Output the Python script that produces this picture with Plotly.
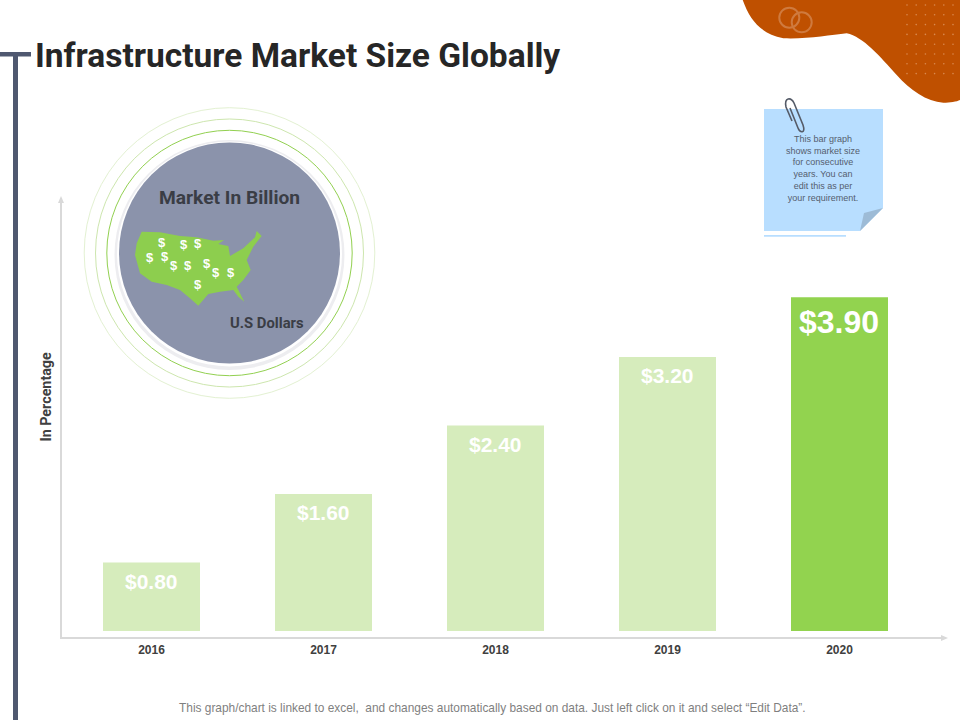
import plotly.graph_objects as go

years = ["2016", "2017", "2018", "2019", "2020"]
market_size = [0.8, 1.6, 2.4, 3.2, 3.9]
bar_labels = ["$0.80", "$1.60", "$2.40", "$3.20", "$3.90"]
bar_colors = ["#D6ECBC", "#D6ECBC", "#D6ECBC", "#D6ECBC", "#92D34F"]
label_sizes = [21, 21, 21, 21, 32]
label_drops = [5, 5, 5, 5, 5]

NARROW = "Roboto, Liberation Sans"
SANS = "Liberation Sans, Arial"
DARK = "#404040"

fig = go.Figure()
fig.add_trace(go.Bar(x=years, y=market_size, marker_color=bar_colors, width=0.564,
                     marker_line_width=0, hoverinfo="skip"))

# the decoration is drawn on a second pair of axes that runs in page pixels
fig.add_trace(go.Scatter(x=[None], y=[None], xaxis="x2", yaxis="y2", hoverinfo="skip"))


def line(x0, y0, x1, y1, color, width):
    return dict(type="line", xref="x2", yref="y2", x0=x0, y0=y0, x1=x1, y1=y1,
                line=dict(color=color, width=width))


def rect(x0, y0, x1, y1, color):
    return dict(type="rect", xref="x2", yref="y2", x0=x0, y0=y0, x1=x1, y1=y1,
                fillcolor=color, line_width=0)


def circle(cx, cy, r, fill="rgba(0,0,0,0)", stroke="rgba(0,0,0,0)", width=1):
    return dict(type="circle", xref="x2", yref="y2", x0=cx - r, y0=cy - r, x1=cx + r, y1=cy + r,
                fillcolor=fill, line=dict(color=stroke, width=width))


def path(d, fill="rgba(0,0,0,0)", stroke="rgba(0,0,0,0)", width=0):
    return dict(type="path", xref="x2", yref="y2", path=d, fillcolor=fill,
                line=dict(color=stroke, width=width))


def polygon(points):
    return "M" + " L".join(f"{x:.1f},{y:.1f}" for x, y in points) + " Z"


shapes = []

# left rule
shapes.append(rect(13, 52, 18, 720, "#4F5870"))
shapes.append(rect(0, 52, 31, 56.5, "#4F5870"))

# orange blob, top right
blob = [(8, 0), (30, 60), (60, 100), (130, 115), (200, 118), (270, 105), (320, 100),
        (370, 110), (420, 170), (470, 225), (510, 270), (560, 305), (610, 308),
        (630, 308), (650, 305), (660, 300)]
blob = [(740 + x / 3, y / 3) for x, y in blob]
d = f"M{blob[0][0]:.1f},{blob[0][1]:.1f}"
for i in range(1, len(blob), 3):
    d += " C" + " ".join(f"{x:.1f},{y:.1f}" for x, y in blob[i:i + 3])
d += " L960,0 Z"
shapes.append(path(d, fill="#BF5000"))
shapes.append(circle(789.3, 17.7, 10, stroke="#CF7A3E", width=2))
shapes.append(circle(801.7, 22.3, 10, stroke="#CF7A3E", width=2))
for row in range(8):
    for col in range(6):
        shapes.append(circle(907 + col * 9.2, 5 + row * 9.8, 0.8, fill="#D98A50"))

# chart axes
shapes.append(line(61, 638, 61, 200, "#D9D9D9", 2))
shapes.append(line(60, 638, 943, 638, "#D9D9D9", 2))
shapes.append(path(polygon([(61, 196), (58, 203), (64, 203)]), fill="#D9D9D9"))
shapes.append(path(polygon([(948, 638), (941, 635), (941, 641)]), fill="#D9D9D9"))

# circle with rings
cx, cy = 229.5, 253
shapes.append(circle(cx, cy, 145.3, stroke="#E3F1D2", width=1))
shapes.append(circle(cx, cy, 134, stroke="#CDE6AE", width=1))
shapes.append(circle(cx, cy, 122.7, stroke="#92D050", width=1))
shapes.append(circle(cx, cy + 2, 115, fill="#EDEDF0"))
shapes.append(circle(cx, cy + 1, 112.5, fill="#FFFFFF"))
shapes.append(circle(cx, cy, 110.5, fill="#8B93AB"))

# map of the US
us_map = [(185, 395), (240, 397), (300, 408), (350, 412), (400, 422), (432, 420), (415, 432),
          (445, 438), (450, 468), (490, 445), (525, 412), (530, 393), (545, 408), (520, 440),
          (500, 480), (512, 510), (490, 540), (470, 560), (480, 580), (493, 605), (475, 590),
          (460, 570), (420, 575), (385, 582), (355, 617), (330, 595), (300, 570), (260, 555),
          (215, 545), (180, 520), (165, 465), (170, 430)]
shapes.append(path(polygon([(80 + x / 3, 100 + y / 3) for x, y in us_map]), fill="#8DCE4E"))

# sticky note
shapes.append(path(polygon([(764, 109), (883, 109), (883, 208), (860, 231), (764, 231)]), fill="#B8DEFF"))
shapes.append(path(polygon([(883, 208), (864, 213), (860, 231)]), fill="#9DBBD6"))
shapes.append(rect(764, 235, 846, 236.7, "#B8DEFF"))
clip = "M792,121 L786,107 C784,97 791,97 794,103 L803,125 C806,134 800,133 798,128 L790,108"
shapes.append(path(clip, stroke="#555B68", width=1.6))

annotations = []


def text(x, y, s, size, color=DARK, family=SANS, bold=False, anchor="center", angle=0):
    annotations.append(dict(xref="x2", yref="y2", x=x, y=y, text=f"<b>{s}</b>" if bold else s,
                            showarrow=False, xanchor=anchor, yanchor="middle", textangle=angle,
                            font=dict(size=size, color=color, family=family)))


# labels that sit inside the top of each bar, x is the category's index
for i, (value, label, size, drop) in enumerate(zip(market_size, bar_labels, label_sizes, label_drops)):
    annotations.append(dict(xref="x", yref="y", x=i, y=value, text=f"<b>{label}</b>",
                            showarrow=False, yanchor="top", yshift=-drop, xshift=-0.5,
                            font=dict(size=size, color="white", family=SANS)))

text(33, 55, "Infrastructure Market Size Globally", 33.5, color="#262626", family=NARROW, bold=True, anchor="left")
text(229, 197, "Market In Billion", 19.2, color="#3A3D45", family=NARROW, bold=True)
text(266.5, 323, "U.S Dollars", 14.8, color="#3A3D45", family=NARROW, bold=True)
text(45, 396.5, "In Percentage", 14.3, family=NARROW, bold=True, angle=-90)
text(823, 168.5, "This bar graph<br>shows market size<br>for consecutive<br>years. You can<br>edit this as per<br>your requirement.",
     9, color="#555D6E")
text(492, 708, "This graph/chart is linked to excel,  and changes automatically based on data. "
               "Just left click on it and select “Edit Data”.", 11.9, color="#7F7F7F")

dollars = [(245, 428), (313, 434), (355, 431), (211, 471), (256, 470), (283, 497),
           (325, 497), (381, 489), (408, 516), (453, 516), (355, 552)]
for x, y in dollars:
    text(80 + x / 3, 100 + y / 3, "$", 13, color="#FFFFFF", bold=True)

fig.update_layout(
    width=960, height=720, margin=dict(l=0, r=0, t=0, b=0), showlegend=False,
    paper_bgcolor="white", plot_bgcolor="rgba(0,0,0,0)", shapes=shapes, annotations=annotations,
    xaxis=dict(domain=[65.5 / 960, 925.5 / 960], type="category", range=[-0.5, 4.5], showgrid=False,
               showline=False, zeroline=False, ticks="", ticklabelstandoff=10,
               tickfont=dict(size=12, color=DARK, family=SANS, weight="bold")),
    yaxis=dict(domain=[89 / 720, 523 / 720], range=[0, 434 / 85.6], visible=False),
    xaxis2=dict(domain=[0, 1], range=[0, 960], visible=False, anchor="y2"),
    yaxis2=dict(domain=[0, 1], range=[720, 0], visible=False, anchor="x2"),
)

fig.write_html("out.html", config={"displayModeBar": False},
               post_script="document.body.style.margin='0';document.body.style.overflow='hidden';")
